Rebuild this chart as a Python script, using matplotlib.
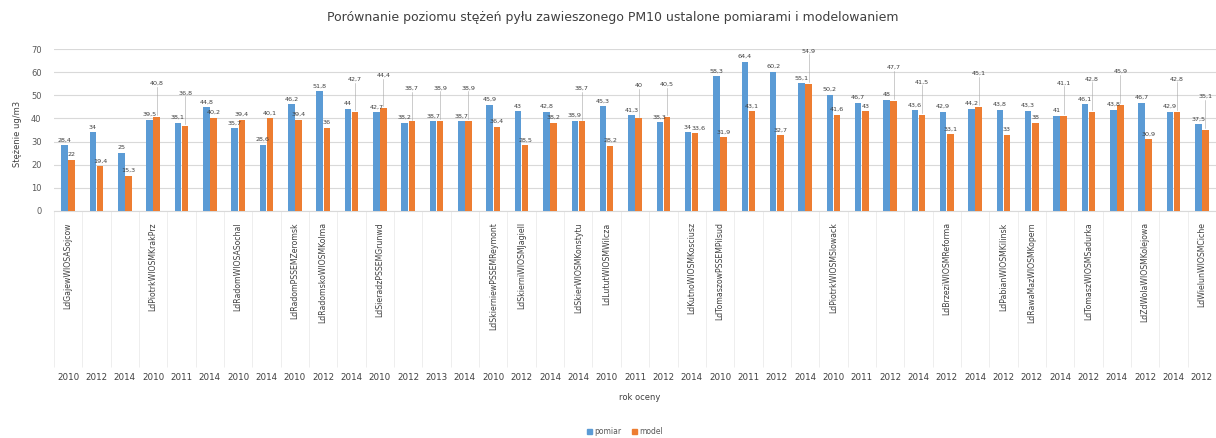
import numpy as np
import matplotlib
matplotlib.use("Agg")
import matplotlib.pyplot as plt
from matplotlib.transforms import blended_transform_factory
from matplotlib.patches import Patch

plt.rcParams['font.family'] = ['DejaVu Sans']

# ---------------- data ----------------
years = ["2010", "2012", "2014", "2010", "2011", "2014", "2010", "2014", "2010", "2012",
         "2014", "2010", "2012", "2013", "2014", "2010", "2012", "2014", "2014", "2010",
         "2011", "2012", "2014", "2010", "2011", "2012", "2014", "2010", "2011", "2012",
         "2014", "2012", "2014", "2012", "2012", "2014", "2012", "2014", "2012", "2014",
         "2012"]

pomiar = [28.4, 34, 25, 39.5, 38.1, 44.8, 35.7, 28.6, 46.2, 51.8,
          44, 42.7, 38.2, 38.7, 38.7, 45.9, 43, 42.8, 38.9, 45.3,
          41.3, 38.3, 34, 58.3, 64.4, 60.2, 55.1, 50.2, 46.7, 48,
          43.6, 42.9, 44.2, 43.8, 43.3, 41, 46.1, 43.8, 46.7, 42.9,
          37.5]

model = [22, 19.4, 15.3, 40.8, 36.8, 40.2, 39.4, 40.1, 39.4, 36,
         42.7, 44.4, 38.7, 38.9, 38.9, 36.4, 28.5, 38.2, 38.7, 28.2,
         40, 40.5, 33.6, 31.9, 43.1, 32.7, 54.9, 41.6, 43, 47.7,
         41.5, 33.1, 45.1, 33, 38, 41.1, 42.8, 45.9, 30.9, 42.8,
         35.1]

stations = ["LdGajewWIOSASojcow", "LdPiotrkWIOSMKrakPrz", "LdRadomWIOSASochal",
            "LdRadomPSSEMZeromsk", "LdRadomskoWIOSMKolma", "LdSieradzPSSEMGrunwd",
            "LdSkierniewPSSEMReymont", "LdSkierniWIOSMJagiell", "LdSkierWIOSMKonstytu",
            "LdLututWIOSMWilcza", "LdKutnoWIOSMKosciusz", "LdTomaszowPSSEMPilsud",
            "LdPiotrkWIOSMSlowack", "LdBrzeziWIOSMReforma", "LdPabianWIOSMKilinsk",
            "LdRawaMazWIOSMKopern", "LdTomaszWIOSMSadurka", "LdZdWolaWIOSMKolejowa",
            "LdWielunWIOSMCiche"]
station_start = [0, 3, 6, 8, 9, 11, 15, 16, 18, 19, 22, 23, 27, 31, 33, 34, 36, 38, 40]

# model labels shifted up with a leader line (style)
lifted = [3, 4, 10, 11, 12, 13, 14, 18, 20, 21, 26, 29, 30, 32, 35, 36, 37, 39, 40]
# label pairs drawn side by side (style)
side_by_side = [22]

title = "Porównanie poziomu stężeń pyłu zawieszonego PM10 ustalone pomiarami i modelowaniem"
ylabel = "Stężenie ug/m3"
xlabel = "rok oceny"

BLUE = "#5B9BD5"
ORANGE = "#ED7D31"
GRID = "#D9D9D9"
TXT = "#595959"
DARK = "#404040"

W, H = 1216, 438
fig = plt.figure(figsize=(W / 100, H / 100), dpi=100)
ax = fig.add_axes([54 / W, 227 / H, (W - 54) / W, 162 / H])

x = np.arange(len(years))
bw = 0.23
off = 0.125
ax.bar(x - off, pomiar, bw, color=BLUE, zorder=3)
ax.bar(x + off, model, bw, color=ORANGE, zorder=3)

ax.set_xlim(-0.5, (W - 54) / 28.6 - 0.5)
ax.set_ylim(0, 70)
ax.set_yticks(np.arange(0, 71, 10))
ax.yaxis.grid(True, color=GRID, lw=0.8, zorder=0)
for s in ["left", "right", "top"]:
    ax.spines[s].set_visible(False)
ax.spines["bottom"].set_color(GRID)
ax.tick_params(axis="y", length=0, labelsize=6, labelcolor=TXT, pad=9)
ax.set_xticks([])
ax.set_xticks(np.arange(-0.5, len(years) + 0.5, 1), minor=True)
ax.tick_params(axis="x", which="minor", length=112, width=0.6, color="#EBEBEB",
               direction="out")

def fmt(v):
    if abs(v - round(v)) < 1e-9:
        return "%d" % round(v)
    return ("%.1f" % v).replace(".", ",")

lab_kw = dict(va="bottom", fontsize=4.6, color=DARK, zorder=4)
for i in range(len(years)):
    if i in side_by_side:
        ax.text(x[i] - 0.02, pomiar[i] + 1.2, fmt(pomiar[i]), ha="right", **lab_kw)
        ax.text(x[i] - 0.02, model[i] + 1.2, fmt(model[i]), ha="left", **lab_kw)
        continue
    ax.text(x[i] - off, pomiar[i] + 1.2, fmt(pomiar[i]), ha="center", **lab_kw)
    if i in lifted:
        ax.plot([x[i] + off, x[i] + off], [model[i] + 0.8, model[i] + 12.8],
                color="#A6A6A6", lw=0.4, zorder=4)
        ax.text(x[i] + off, model[i] + 13.2, fmt(model[i]), ha="center", **lab_kw)
    else:
        ax.text(x[i] + off, model[i] + 1.2, fmt(model[i]), ha="center", **lab_kw)

tr = blended_transform_factory(ax.transData, ax.transAxes)
for i, y in enumerate(years):
    ax.text(x[i], -1.025, y, transform=tr, ha="center", va="center",
            fontsize=6.3, color=DARK, clip_on=False)
for name, st in zip(stations, station_start):
    ax.text(x[st], -0.07, name, transform=tr, rotation=90, ha="center", va="top",
            fontsize=5.6, color=DARK, clip_on=False)

fig.text(613 / W, 1 - 18 / H, title, ha="center", va="center", fontsize=9, color=DARK)
fig.text(17 / W, 1 - 134 / H, ylabel, rotation=90, ha="center", va="center",
         fontsize=6, color=DARK)
fig.text(640 / W, 1 - 397 / H, xlabel, ha="center", va="center", fontsize=6, color=DARK)

handles = [Patch(color=BLUE, label="pomiar"), Patch(color=ORANGE, label="model")]
leg = fig.legend(handles=handles, loc="center", bbox_to_anchor=(625 / W, 1 - 432 / H),
                 ncol=2, frameon=False, fontsize=5.5, handlelength=0.6, handleheight=0.6,
                 handletextpad=0.3, columnspacing=1.5)
for t in leg.get_texts():
    t.set_color(TXT)

fig.savefig("out.png", dpi=100)
